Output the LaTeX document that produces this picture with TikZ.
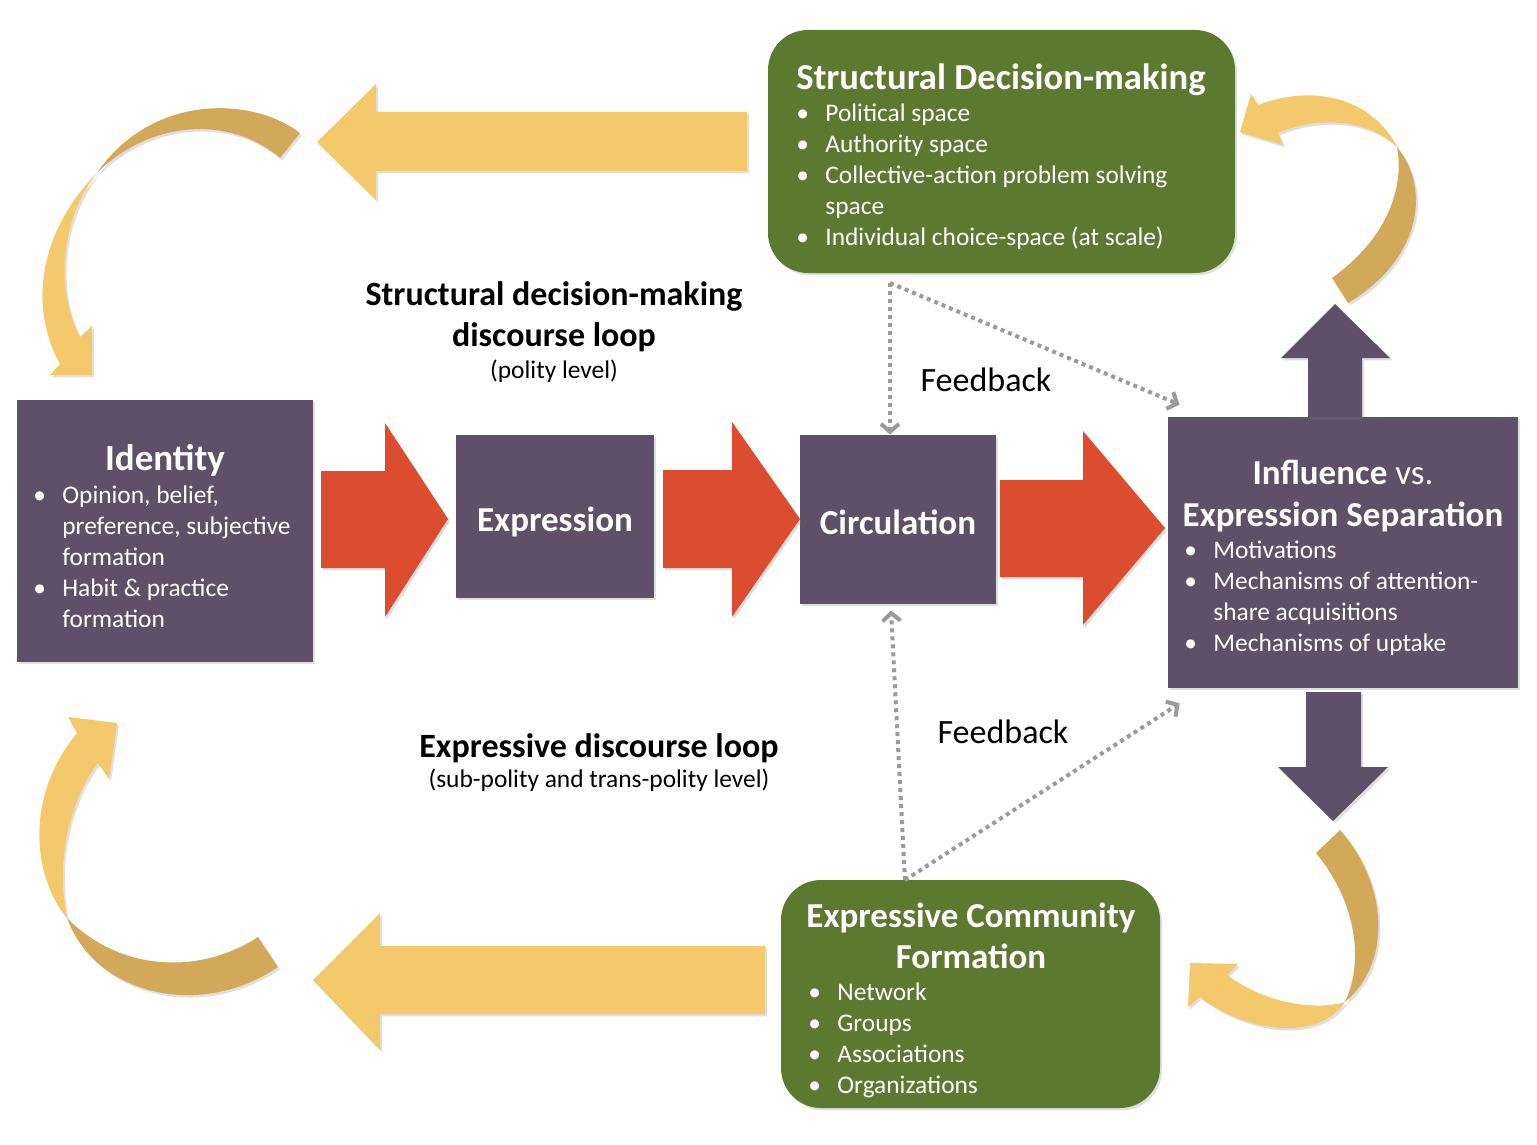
\documentclass[tikz,border=0pt]{standalone}
\usepackage{fontspec}
\setmainfont{Carlito}
\usetikzlibrary{arrows.meta,positioning,fit,shadows}
\definecolor{plumBox}{HTML}{5E5068}
\definecolor{leafGreen}{HTML}{5B7A30}
\definecolor{flowRed}{HTML}{DC4D30}
\definecolor{loopGold}{HTML}{F3C96B}
\definecolor{loopGoldDark}{HTML}{D1A958}
\definecolor{dotGray}{HTML}{9A9A9A}
\newcommand{\bu}{\makebox[14.5pt][l]{\textbullet}}

\begin{document}
\begin{tikzpicture}[
  x=0.5pt, y=-0.5pt,
  soft/.style={drop shadow={opacity=.25, shadow xshift=1pt, shadow yshift=-1.2pt}},
  box/.style={inner sep=0pt, fill=plumBox, soft},
  greenbox/.style={box, fill=leafGreen, rounded corners=20pt},
  title/.style={text=white, font=\fontsize{17.5}{20.5}\selectfont\bfseries, anchor=base, inner sep=0pt},
  items/.style={text=white, font=\fontsize{12.7}{15.5}\selectfont, anchor=base west, inner sep=0pt},
  looptitle/.style={font=\fontsize{17}{20}\selectfont\bfseries, anchor=base, inner sep=0pt},
  loopnote/.style={font=\fontsize{12.7}{15}\selectfont, anchor=base, inner sep=0pt},
  fbtext/.style={font=\fontsize{17}{20}\selectfont, anchor=base, inner sep=0pt},
  flow/.style={fill=flowRed, soft},
  climb/.style={fill=plumBox, soft},
  gold/.style={fill=loopGold, soft},
  golddark/.style={fill=loopGoldDark, soft},
  feedback/.style={draw=dotGray, line width=2pt, dash pattern=on 2pt off 2pt, -{Straight Barb[length=4pt, width=9pt]}}
]
\useasboundingbox (0,0) rectangle (1537,1145);

% boxes
\node[box, fit={(17,400) (313,662)}] (identity) {};
\node[box, fit={(456,435) (654,598)}] (expr) {};
\node[box, fit={(800,435) (996,604)}] (circ) {};
\node[box, fit={(1168,417) (1518,688)}] (infl) {};
\node[greenbox, fit={(768,30) (1235,273)}] (struct) {};
\node[greenbox, fit={(781,880) (1160,1108)}] (comm) {};

% box texts
\node[title, font=\fontsize{18.5}{20.5}\selectfont\bfseries] (identityT) at (165,470) {Identity};
\node[items] at (33,503) {\begin{tabular}[t]{@{}l@{}l@{}}
\bu & Opinion, belief,\\
 & preference, subjective\\
 & formation\\
\bu & Habit \& practice\\
 & formation
\end{tabular}};
\node[title] at (555,531) {Expression};
\node[title] at (898,534) {Circulation};
\node[title] (inflT) at (1343,484) {Influence {\mdseries vs.}};
\node[title] at (1343,526) {Expression Separation};
\node[items] at (1184,558) {\begin{tabular}[t]{@{}l@{}l@{}}
\bu & Motivations\\
\bu & Mechanisms of attention-\\
 & share acquisitions\\
\bu & Mechanisms of uptake
\end{tabular}};
\node[title, font=\fontsize{18.3}{20.5}\selectfont\bfseries] (structT) at (1001,90) {Structural Decision-making};
\node[items] at (796,122) {\begin{tabular}[t]{@{}l@{}l@{}}
\bu & Political space\\
\bu & Authority space\\
\bu & Collective-action problem solving\\
 & space\\
\bu & Individual choice-space (at scale)
\end{tabular}};
\node[title] (commT) at (971,927) {Expressive Community};
\node[title] at (971,968) {Formation};
\node[items] at (808,1000) {\begin{tabular}[t]{@{}l@{}l@{}}
\bu & Network\\
\bu & Groups\\
\bu & Associations\\
\bu & Organizations
\end{tabular}};

% loop labels
\node[looptitle] (upperloop) at (554,305) {Structural decision-making};
\node[looptitle] at (554,346) {discourse loop};
\node[loopnote] at (554,378) {(polity level)};
\node[looptitle] (lowerloop) at (599,757) {Expressive discourse loop};
\node[loopnote] at (599,787) {(sub-polity and trans-polity level)};

% red flow arrows
\fill[flow] (321,471) -- (385,471) -- (385,423) -- (448,519) -- (385,617) -- (385,568) -- (321,568) -- cycle;
\fill[flow] (663,470) -- (732,470) -- (732,422) -- (800,519) -- (732,617) -- (732,568) -- (663,568) -- cycle;
\fill[flow] (1000,480) -- (1083,480) -- (1083,431) -- (1165,528) -- (1083,625) -- (1083,577) -- (1000,577) -- cycle;

% purple up / down arrows
\fill[climb] (1308,417) -- (1308,358) -- (1281,358) -- (1335,304) -- (1390,358) -- (1362,358) -- (1362,417) -- cycle;
\fill[climb] (1306,692) -- (1361,692) -- (1361,767) -- (1388,767) -- (1333,821) -- (1278,767) -- (1306,767) -- cycle;

% gold straight arrows
\fill[gold] (317,142) -- (376,84) -- (376,112) -- (747,112) -- (747,171) -- (376,171) -- (376,200) -- cycle;
\fill[gold] (313,980) -- (380,913) -- (380,946) -- (765,946) -- (765,1014) -- (380,1014) -- (380,1050) -- cycle;

% gold curved arrows
\fill[golddark] (300,133) .. controls (250,95) and (150,95) .. (97,173) .. controls (150,120) and (230,115) .. (280,158) -- cycle;
\fill[gold] (97,173) .. controls (45,225) and (25,300) .. (60,364) -- (50,375) -- (92,375) -- (92,326) -- (80,337) .. controls (55,290) and (60,220) .. (97,173) -- cycle;

\fill[gold] (68,717) -- (117,723) -- (109,779) -- (98,763) .. controls (70,800) and (55,860) .. (67,918) .. controls (35,880) and (22,800) .. (77,733) -- cycle;
\fill[golddark] (67,918) .. controls (95,995) and (200,1020) .. (278,967) -- (258,937) .. controls (200,975) and (120,972) .. (67,918) -- cycle;

\fill[gold] (1240,132) -- (1251,94) -- (1258,105) .. controls (1310,85) and (1370,95) .. (1397,147) .. controls (1370,120) and (1320,115) .. (1278,133) -- (1283,145) -- cycle;
\fill[golddark] (1397,147) .. controls (1432,190) and (1420,260) .. (1348,303) -- (1332,278) .. controls (1385,240) and (1405,190) .. (1397,147) -- cycle;

\fill[golddark] (1340,830) .. controls (1385,880) and (1395,960) .. (1345,1002) .. controls (1365,960) and (1355,900) .. (1316,853) -- cycle;
\fill[gold] (1345,1002) .. controls (1320,1040) and (1250,1035) .. (1200,997) -- (1188,1007) -- (1190,963) -- (1238,964) -- (1227,975) .. controls (1260,1000) and (1310,1012) .. (1345,1002) -- cycle;

% feedback links
\coordinate (fbtop) at (890,283);
\coordinate (fbbot) at (905,880);
\draw[feedback] (fbtop) -- (fbtop |- circ.north);
\draw[feedback] (fbtop) -- ([shift={(12,-12)}]infl.north west);
\draw[feedback] (fbbot) -- ([shift={(-7,6)}]circ.south);
\draw[feedback] (fbbot) -- ([shift={(12,15)}]infl.south west);
\node[fbtext] at (986,391) {Feedback};
\node[fbtext] at (1003,743) {Feedback};
\end{tikzpicture}
\end{document}
